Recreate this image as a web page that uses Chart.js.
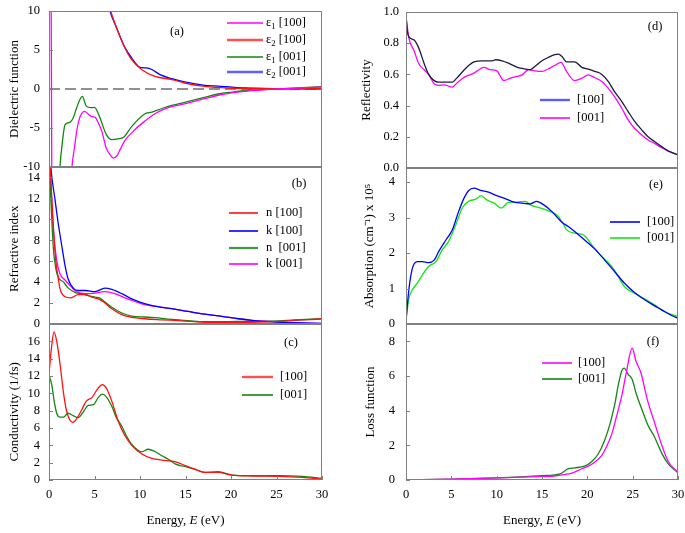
<!DOCTYPE html>
<html>
<head>
<meta charset="utf-8">
<script src="https://cdn.jsdelivr.net/npm/chart.js@4.4.0/dist/chart.umd.min.js"></script>
<style>
  body { margin: 0; background: #fff; }
  #wrap { position: relative; width: 685px; height: 533px; background: #fff; }
  canvas { position: absolute; }
</style>
</head>
<body>
<div id="wrap">
  <canvas id="ca" width="330" height="175" style="left:0;top:0"></canvas>
  <canvas id="cb" width="330" height="172" style="left:0;top:160px"></canvas>
  <canvas id="cc" width="330" height="217" style="left:0;top:316px"></canvas>
  <canvas id="cd" width="345" height="175" style="left:340px;top:0"></canvas>
  <canvas id="ce" width="345" height="172" style="left:340px;top:160px"></canvas>
  <canvas id="cf" width="345" height="217" style="left:340px;top:316px"></canvas>
</div>
<script>
// tick values
const energyTicks = [0, 5, 10, 15, 20, 25, 30];
const ticksA = [-10, -5, 0, 5, 10];
const ticksB = [0, 2, 4, 6, 8, 10, 12, 14];
const ticksC = [0, 2, 4, 6, 8, 10, 12, 14, 16];
const ticksD = [0, 0.2, 0.4, 0.6, 0.8, 1.0];
const ticksE = [0, 1, 2, 3, 4];
const ticksF = [0, 2, 4, 6, 8];

// (a) dielectric function
const eps1x_E = [0, 0.2, 0.4, 1.5, 2.3, 2.55, 2.8, 3.1, 3.4, 3.9, 4.3, 4.7, 5.05, 5.4, 5.8, 6.3, 6.7, 7.07, 7.5, 7.8, 8.35, 9.45, 10.5, 11.6, 13.1, 14.9, 17.1, 18.6, 20.1, 22.3, 25.2, 30];
const eps1x   = [40, 20, -30, -30, -14, -9.7, -7.5, -5.0, -3.6, -2.86, -3.2, -3.55, -3.6, -4.3, -5.4, -7.6, -8.4, -8.85, -8.5, -7.8, -6.6, -5.2, -4.15, -3.2, -2.4, -1.9, -1.24, -0.8, -0.5, -0.2, 0, 0.25];
const eps2x_E = [5.0, 5.5, 6.2, 6.78, 7.44, 8.35, 9.08, 10.2, 11.65, 13.5, 14.9, 17.1, 19.7, 25, 30];
const eps2x   = [22, 17, 12.5, 10, 7.8, 5.26, 3.76, 2.48, 1.62, 1.2, 0.77, 0.34, 0.13, 0.05, 0.03];
const eps1z_E = [0, 1.0, 1.2, 1.45, 1.76, 2.3, 2.7, 3.04, 3.66, 4.1, 4.6, 5.0, 5.6, 6.3, 6.9, 7.6, 8.2, 9.1, 10.5, 11.3, 12.4, 13.5, 14.9, 17.1, 18.6, 20.1, 22.3, 25.2, 30];
const eps1z   = [-30, -14, -10, -7, -4.6, -4.27, -3.6, -2.4, -0.94, -2.2, -2.4, -2.35, -3.7, -5.85, -6.5, -6.4, -6.2, -4.8, -3.2, -2.95, -2.5, -2.1, -1.7, -1.07, -0.64, -0.4, -0.13, 0, 0.3];
const eps2z_E = [5.0, 5.5, 6.2, 6.7, 7.44, 8.35, 9.08, 10.0, 10.7, 11.3, 12.2, 13.5, 14.9, 17.1, 18.6, 21.5, 25, 30];
const eps2z   = [22, 17, 12.5, 10, 7.8, 5.3, 4.0, 2.78, 2.7, 2.5, 1.84, 1.32, 0.9, 0.47, 0.38, 0.13, 0.05, 0.03];
const zero_E = [0, 30];
const zero   = [0, 0];

// (b) refractive index
const nx_E = [0, 0.25, 0.5, 0.75, 1.0, 1.2, 1.76, 2.4, 3.2, 4.0, 4.7, 5.4, 6.0, 6.9, 8.0, 9.1, 10.5, 12.4, 14.2, 16.0, 17.9, 21.5, 25.2, 30];
const nx   = [18, 13, 9, 6.0, 4.5, 3.4, 2.6, 2.5, 2.8, 2.8, 2.57, 2.4, 2.1, 1.46, 0.9, 0.63, 0.5, 0.4, 0.32, 0.22, 0.16, 0.16, 0.25, 0.5];
const kx_E = [0, 0.2, 0.66, 1.0, 1.4, 1.76, 2.1, 2.7, 3.2, 4.0, 5.05, 6.15, 6.9, 8.0, 9.1, 10.5, 11.6, 13.5, 15.3, 17.1, 19.0, 20.8, 22.3, 24.5, 27.0, 30];
const kx   = [18, 15, 11.9, 9.7, 7.5, 5.6, 4.3, 3.4, 3.2, 3.2, 3.1, 3.43, 3.3, 2.9, 2.4, 1.94, 1.7, 1.46, 1.2, 0.95, 0.73, 0.5, 0.35, 0.2, 0.13, 0.06];
const nz_E = [0, 0.25, 0.5, 0.75, 1.0, 1.6, 2.1, 2.9, 3.6, 4.3, 5.05, 5.6, 6.15, 6.9, 8.0, 9.1, 10.5, 11.6, 13.5, 15.3, 17.1, 19.0, 21.5, 24.5, 27.0, 30];
const nz   = [16, 11, 7, 5.3, 4.5, 4.0, 3.45, 3.0, 2.9, 2.7, 2.57, 2.48, 2.1, 1.6, 1.05, 0.76, 0.67, 0.6, 0.44, 0.32, 0.22, 0.22, 0.25, 0.28, 0.38, 0.5];
const kz_E = [0, 0.25, 0.5, 0.84, 1.2, 1.76, 2.5, 3.0, 4.0, 5.05, 6.15, 7.25, 8.35, 9.45, 10.5, 11.6, 13.5, 15.3, 17.1, 19.0, 20.8, 22.3, 24.5, 27.0, 30];
const kz   = [17, 12.5, 8.8, 6.1, 4.8, 4.2, 3.5, 3.1, 2.9, 2.95, 3.1, 2.9, 2.5, 2.15, 1.84, 1.7, 1.46, 1.2, 0.95, 0.73, 0.5, 0.35, 0.25, 0.1, 0.05];

// (c) conductivity
const sigx_E = [0, 0.3, 0.55, 0.85, 1.2, 1.6, 1.95, 2.6, 3.0, 3.6, 4.1, 4.7, 5.4, 5.85, 6.3, 6.9, 7.6, 8.35, 9.1, 10.2, 11.3, 12.4, 13.9, 14.9, 16.0, 17.1, 18.6, 20.1, 22.3, 25.2, 27.8, 30];
const sigx   = [12.3, 15.5, 17.1, 16.0, 13.5, 10, 7.9, 6.65, 7.0, 8.1, 9.1, 9.5, 10.6, 11.0, 10.6, 9.1, 6.8, 5.1, 4.0, 3.0, 2.5, 2.3, 2.1, 1.7, 1.26, 0.88, 0.88, 0.57, 0.46, 0.42, 0.3, 0.1];
const sigz_E = [0, 0.3, 0.6, 0.85, 1.2, 1.6, 2.1, 2.7, 3.2, 3.8, 4.3, 4.9, 5.4, 5.85, 6.3, 6.9, 7.4, 8.0, 8.5, 9.1, 10.2, 10.9, 11.5, 12.4, 13.1, 13.9, 14.9, 16.0, 17.1, 18.6, 20.1, 22.3, 25.2, 27.8, 30];
const sigz   = [12.1, 11, 8.9, 7.7, 7.25, 7.25, 7.7, 7.4, 7.2, 7.9, 8.6, 8.7, 9.5, 9.9, 9.6, 8.5, 7.2, 6.2, 5.1, 4.1, 3.25, 3.55, 3.36, 2.8, 2.4, 1.83, 1.56, 1.26, 0.88, 0.95, 0.57, 0.5, 0.5, 0.42, 0.2];

// (d) reflectivity
const rx_E = [0, 0.15, 0.33, 0.9, 1.4, 2.0, 2.5, 3.1, 3.6, 4.4, 5.1, 5.6, 6.6, 7.5, 8.4, 9.5, 9.9, 10.6, 11.3, 12.1, 12.6, 13.2, 13.7, 14.2, 15.0, 15.7, 16.4, 16.8, 17.2, 17.7, 18.6, 19.4, 20.1, 20.8, 21.6, 22.3, 23.0, 23.8, 24.5, 25.2, 26.0, 26.7, 27.4, 28.2, 28.9, 30];
const rx   = [0.98, 0.876, 0.84, 0.82, 0.77, 0.67, 0.6, 0.56, 0.55, 0.55, 0.55, 0.576, 0.64, 0.68, 0.687, 0.687, 0.694, 0.687, 0.672, 0.65, 0.64, 0.634, 0.63, 0.65, 0.687, 0.709, 0.726, 0.73, 0.715, 0.68, 0.68, 0.645, 0.634, 0.62, 0.6, 0.555, 0.49, 0.426, 0.362, 0.3, 0.244, 0.2, 0.17, 0.137, 0.11, 0.084];
const rz_E = [0, 0.33, 0.9, 1.4, 2.0, 2.5, 3.1, 3.6, 4.2, 5.1, 5.6, 6.6, 7.5, 8.6, 9.3, 10.0, 10.8, 11.5, 12.2, 12.8, 13.5, 14.2, 15.0, 15.7, 16.4, 17.1, 17.7, 18.6, 19.4, 20.1, 20.8, 21.6, 22.3, 23.0, 23.8, 24.5, 25.2, 26.0, 26.7, 27.4, 28.2, 28.9, 30];
const rz   = [0.97, 0.83, 0.75, 0.67, 0.63, 0.6, 0.54, 0.53, 0.533, 0.518, 0.544, 0.587, 0.608, 0.645, 0.63, 0.623, 0.56, 0.576, 0.587, 0.597, 0.63, 0.623, 0.619, 0.636, 0.657, 0.677, 0.62, 0.56, 0.576, 0.597, 0.58, 0.555, 0.512, 0.458, 0.383, 0.308, 0.255, 0.212, 0.18, 0.158, 0.13, 0.11, 0.084];

// (e) absorption
const ax_E = [0, 0.33, 0.7, 1.25, 1.8, 2.5, 3.1, 3.6, 4.4, 5.1, 5.8, 6.4, 6.9, 7.5, 8.2, 9.1, 10.0, 11.0, 11.9, 12.8, 13.7, 14.4, 15.2, 16.1, 17.2, 17.9, 18.6, 19.7, 20.8, 21.9, 23.0, 24.1, 25.2, 26.0, 27.1, 28.2, 29.3, 30];
const ax   = [0.11, 1.0, 1.57, 1.76, 1.76, 1.73, 1.8, 2.04, 2.37, 2.65, 3.17, 3.55, 3.76, 3.83, 3.77, 3.72, 3.62, 3.53, 3.44, 3.41, 3.39, 3.46, 3.36, 3.17, 2.87, 2.75, 2.61, 2.37, 2.12, 1.81, 1.48, 1.15, 0.89, 0.74, 0.56, 0.4, 0.24, 0.16];
const az_E = [0, 0.33, 0.7, 1.25, 1.8, 2.5, 3.3, 4.0, 4.7, 5.5, 6.2, 6.9, 7.7, 8.3, 8.9, 9.7, 10.5, 11.3, 12.2, 13.2, 13.7, 14.6, 15.7, 16.6, 17.2, 17.7, 18.6, 19.6, 20.5, 21.6, 22.7, 23.4, 24.1, 25.2, 26.3, 27.4, 28.5, 30];
const az   = [0.11, 0.73, 0.96, 1.15, 1.38, 1.62, 1.76, 2.09, 2.33, 2.8, 3.27, 3.46, 3.52, 3.62, 3.5, 3.41, 3.27, 3.43, 3.44, 3.46, 3.36, 3.29, 3.19, 3.08, 2.89, 2.66, 2.56, 2.51, 2.23, 1.9, 1.62, 1.34, 1.05, 0.87, 0.71, 0.54, 0.35, 0.21];

// (f) loss function
const lx_E = [0, 5, 10, 15, 16.1, 17.2, 18.3, 19.4, 20.1, 20.8, 21.6, 22.1, 22.7, 23.2, 23.8, 24.3, 24.95, 25.35, 25.9, 26.6, 27.4, 28.15, 28.9, 30];
const lx   = [0, 0.05, 0.12, 0.2, 0.21, 0.3, 0.4, 0.65, 0.8, 1.03, 1.42, 1.9, 2.66, 3.62, 4.87, 6.2, 7.6, 6.88, 6.2, 4.67, 3.33, 2.1, 1.1, 0.42];
const lz_E = [0, 5, 10, 15, 17.0, 17.9, 18.6, 19.7, 20.5, 21.2, 21.9, 22.5, 23.0, 23.4, 23.8, 24.05, 24.5, 24.95, 25.4, 26.0, 26.7, 27.4, 28.2, 28.9, 30];
const lz   = [0, 0.05, 0.12, 0.25, 0.36, 0.65, 0.7, 0.8, 1.07, 1.5, 2.28, 3.24, 4.3, 5.44, 6.3, 6.46, 6.1, 5.8, 4.96, 4.1, 3.15, 2.5, 1.55, 0.95, 0.42];

const MAG = '#ff00ff', RED = '#ff1010', GRN = '#108810', BLU = '#0000ff', LIME = '#10e810', NAVY = '#1c1c3a';
const SERIF = '"Liberation Serif", "Times New Roman", serif';

Chart.defaults.font.family = SERIF;
Chart.defaults.color = '#000';

const pts = (E, v) => E.map((x, i) => ({ x, y: v[i] }));
const line = (label, E, v, color, extra) => Object.assign({
  label, data: pts(E, v), borderColor: color, borderWidth: 1.3,
  pointRadius: 0, fill: false, cubicInterpolationMode: 'monotone'
}, extra || {});

// text with "_x" subscripts
function drawRich(ctx, str, x, y, size) {
  let cx = x;
  for (let i = 0; i < str.length; i++) {
    if (str[i] === '_') {
      const ch = str[++i];
      ctx.font = (size * 0.7) + 'px ' + SERIF;
      ctx.fillText(ch, cx, y + size * 0.3);
      cx += ctx.measureText(ch).width;
    } else {
      ctx.font = size + 'px ' + SERIF;
      ctx.fillText(str[i], cx, y);
      cx += ctx.measureText(str[i]).width;
    }
  }
}

const frame = {
  id: 'frame',
  afterDatasetsDraw(chart, args, o) {
    const { ctx, chartArea: a, scales } = chart;
    ctx.save();
    ctx.strokeStyle = '#808080';
    ctx.lineWidth = 1;
    ctx.beginPath();
    scales.y.ticks.forEach(t => {
      const py = Math.round(scales.y.getPixelForValue(t.value)) + 0.5;
      ctx.moveTo(a.left, py); ctx.lineTo(a.left + 4, py);
    });
    if (o.xTicks) {
      scales.x.ticks.forEach(t => {
        const px = Math.round(scales.x.getPixelForValue(t.value)) + 0.5;
        ctx.moveTo(px, a.bottom); ctx.lineTo(px, a.bottom - 4);
      });
    }
    ctx.stroke();
    ctx.strokeRect(Math.round(a.left) + 0.5, Math.round(a.top) + 0.5,
      Math.round(a.right - a.left) - 1, Math.round(a.bottom - a.top) - 1);
    ctx.restore();
  }
};

const notes = {
  id: 'notes',
  afterDraw(chart, args, o) {
    const ctx = chart.ctx;
    const [ox, oy] = o.offset;
    ctx.save();
    ctx.fillStyle = '#000';
    ctx.textBaseline = 'middle';
    ctx.textAlign = 'center';
    ctx.font = '12.5px ' + SERIF;
    ctx.fillText(o.tag[0], o.tag[1] - ox, o.tag[2] - oy);
    ctx.textAlign = 'left';
    const lg = o.legend;
    chart.data.datasets.forEach((ds, i) => {
      if (!ds.label) return;
      const y = lg.ys[i] - oy;
      ctx.strokeStyle = ds.legendColor || ds.borderColor;
      ctx.lineWidth = ds.legendWidth || 1.6;
      ctx.beginPath();
      ctx.moveTo(lg.x1 - ox, y); ctx.lineTo(lg.x2 - ox, y);
      ctx.stroke();
      drawRich(ctx, ds.label, lg.tx - ox, y, 12.5);
    });
    if (o.xTitle) {
      const parts = [['Energy, ', ''], ['E', 'italic '], [' (eV)', '']];
      let w = 0;
      parts.forEach(p => { ctx.font = p[1] + '13px ' + SERIF; w += ctx.measureText(p[0]).width; });
      const a = chart.chartArea;
      let x = (a.left + a.right) / 2 - w / 2;
      parts.forEach(p => {
        ctx.font = p[1] + '13px ' + SERIF;
        ctx.fillText(p[0], x, 521 - oy);
        x += ctx.measureText(p[0]).width;
      });
    }
    ctx.restore();
  }
};

function panel(id, c) {
  return new Chart(document.getElementById(id), {
    type: 'line',
    data: { datasets: c.datasets },
    options: {
      responsive: false,
      animation: false,
      events: [],
      layout: { padding: { top: c.padTop, right: c.padRight, left: 0, bottom: 0 } },
      plugins: {
        legend: { display: false },
        tooltip: { enabled: false },
        frame: { xTicks: c.bottom },
        notes: { offset: c.offset, tag: c.tag, legend: c.legend, xTitle: c.bottom }
      },
      scales: {
        x: {
          type: 'linear', min: 0, max: 30,
          grid: { display: false, drawTicks: false },
          border: { display: false },
          ticks: { display: c.bottom, padding: 7, maxRotation: 0, font: { size: 12.5 } },
          afterBuildTicks: s => { s.ticks = energyTicks.map(v => ({ value: v })); },
          afterFit: s => { s.height = c.xHeight; s.paddingLeft = 0; s.paddingRight = 0; }
        },
        y: {
          min: c.yMin, max: c.yMax,
          grid: { display: false, drawTicks: false },
          border: { display: false },
          ticks: { padding: c.tickPad, font: { size: 12.5 }, callback: c.fmt || (v => v) },
          title: { display: true, text: c.yTitle, font: { size: 13 }, padding: { top: c.titlePad, bottom: 0 } },
          afterBuildTicks: s => { s.ticks = c.yTicks.map(v => ({ value: v })); },
          afterFit: s => { s.width = c.yWidth; s.paddingTop = 0; s.paddingBottom = 0; }
        }
      }
    },
    plugins: [frame, notes]
  });
}

const left = { padRight: 8, yWidth: 49, tickPad: 9, titlePad: 7 };
const right = { padRight: 7, yWidth: 66 };

panel('ca', Object.assign({}, left, {
  offset: [0, 0], padTop: 11, xHeight: 8, bottom: false,
  yMin: -10, yMax: 10, yTicks: ticksA, yTitle: 'Dielectric function',
  tag: ['(a)', 177, 32],
  legend: { x1: 227, x2: 263, tx: 266, ys: [23, 40, 57, 72] },
  datasets: [
    line('ε_1 [100]', eps1x_E, eps1x, MAG),
    line('ε_2 [100]', eps2x_E, eps2x, RED, { legendWidth: 2.4, legendColor: '#ff5050' }),
    line('ε_1 [001]', eps1z_E, eps1z, GRN),
    line('ε_2 [001]', eps2z_E, eps2z, BLU, { legendWidth: 2.4, legendColor: '#6060ff' }),
    line('', zero_E, zero, '#222', { borderWidth: 1, borderDash: [11, 5] })
  ]
}));

panel('cb', Object.assign({}, left, {
  offset: [0, 160], padTop: 7, xHeight: 8, bottom: false,
  yMin: 0, yMax: 15, yTicks: ticksB, yTitle: 'Refractive index  ',
  tag: ['(b)', 299, 184],
  legend: { x1: 229, x2: 258, tx: 266, ys: [213, 231, 248, 264] },
  datasets: [
    line('n [100]', nx_E, nx, RED),
    line('k [100]', kx_E, kx, BLU),
    line('n  [001]', nz_E, nz, GRN, { legendWidth: 2.2, legendColor: '#409a40' }),
    line('k [001]', kz_E, kz, MAG)
  ]
}));

panel('cc', Object.assign({}, left, {
  offset: [0, 316], padTop: 8, xHeight: 53, bottom: true,
  yMin: 0, yMax: 18, yTicks: ticksC, yTitle: 'Conductivity (1/fs)      ',
  tag: ['(c)', 291, 343],
  legend: { x1: 242, x2: 273, tx: 280, ys: [377, 395] },
  datasets: [
    line('[100]', sigx_E, sigx, RED, { legendWidth: 2.4, legendColor: '#ff5050' }),
    line('[001]', sigz_E, sigz, GRN)
  ]
}));

panel('cd', Object.assign({}, right, {
  offset: [340, 0], padTop: 12, xHeight: 7, bottom: false, tickPad: 7, titlePad: 19,
  yMin: 0, yMax: 1, yTicks: ticksD, yTitle: 'Reflectivity', fmt: v => v.toFixed(1),
  tag: ['(d)', 655, 27],
  legend: { x1: 540, x2: 570, tx: 577, ys: [100, 118] },
  datasets: [
    line('[100]', rx_E, rx, NAVY, { legendWidth: 2.4, legendColor: '#5c5cff' }),
    line('[001]', rz_E, rz, MAG)
  ]
}));

panel('ce', Object.assign({}, right, {
  offset: [340, 160], padTop: 8, xHeight: 8, bottom: false, tickPad: 11, titlePad: 22,
  yMin: 0, yMax: 4.4, yTicks: ticksE, yTitle: 'Absorption (cm⁻¹) x 10⁵',
  tag: ['(e)', 656, 185],
  legend: { x1: 610, x2: 640, tx: 647, ys: [222, 238] },
  datasets: [
    line('[100]', ax_E, ax, BLU),
    line('[001]', az_E, az, LIME)
  ]
}));

panel('cf', Object.assign({}, right, {
  offset: [340, 316], padTop: 8, xHeight: 53, bottom: true, tickPad: 11, titlePad: 23,
  yMin: 0, yMax: 9, yTicks: ticksF, yTitle: 'Loss function',
  tag: ['(f)', 653, 342],
  legend: { x1: 542, x2: 572, tx: 578, ys: [363, 379] },
  datasets: [
    line('[100]', lx_E, lx, MAG),
    line('[001]', lz_E, lz, GRN)
  ]
}));
</script>
</body>
</html>
